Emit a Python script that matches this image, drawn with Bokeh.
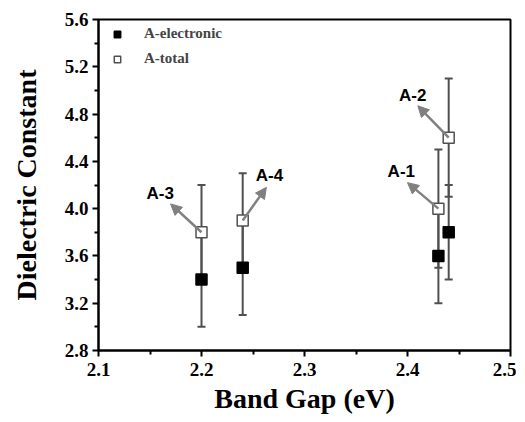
from bokeh.plotting import figure
from bokeh.models import (ColumnDataSource, Whisker, TeeHead, Arrow, NormalHead,
                          FixedTicker, Legend, LegendItem, LabelSet, Range1d,
                          PrintfTickFormatter)
from bokeh.core.properties import value
from bokeh.embed import file_html
from bokeh.resources import INLINE

# ---- data ----
band_gap = [2.43, 2.44, 2.20, 2.24]
labels = ["A-1", "A-2", "A-3", "A-4"]
elec = [3.6, 3.8, 3.4, 3.5]
elec_err = [0.4, 0.4, 0.4, 0.4]
total = [4.0, 4.6, 3.8, 3.9]
total_err = [0.5, 0.5, 0.4, 0.4]
# label positions (data coords) and arrow tips
label_x = [2.394, 2.405, 2.160, 2.266]
label_y = [4.31, 4.96, 4.13, 4.28]
tip_x = [2.400, 2.410, 2.170, 2.263]
tip_y = [4.22, 4.87, 4.04, 4.18]
x_ticks = [2.1, 2.2, 2.3, 2.4, 2.5]
x_minor = [2.15, 2.25, 2.35, 2.45]
y_ticks = [2.8, 3.2, 3.6, 4.0, 4.4, 4.8, 5.2, 5.6]
y_minor = [3.0, 3.4, 3.8, 4.2, 4.6, 5.0, 5.4]

src = ColumnDataSource(dict(
    x=band_gap, e=elec, t=total,
    e_lo=[a - b for a, b in zip(elec, elec_err)],
    e_hi=[a + b for a, b in zip(elec, elec_err)],
    t_lo=[a - b for a, b in zip(total, total_err)],
    t_hi=[a + b for a, b in zip(total, total_err)],
))
lab_src = ColumnDataSource(dict(x=label_x, y=label_y, text=labels))
arr_src = ColumnDataSource(dict(x0=band_gap, y0=total, x1=tip_x, y1=tip_y))

p = figure(width=516, height=420, output_backend="svg", toolbar_location=None,
           x_range=Range1d(2.1, 2.5), y_range=Range1d(2.8, 5.6),
           min_border_left=98, min_border_right=6, min_border_top=19, min_border_bottom=70)
p.xgrid.visible = False
p.ygrid.visible = False
p.outline_line_color = "black"
p.outline_line_width = 2

ERR = "#505050"
for lo, hi in (("t_lo", "t_hi"), ("e_lo", "e_hi")):
    w = Whisker(base="x", lower=lo, upper=hi, source=src, dimension="height",
                line_color=ERR, line_width=2,
                upper_head=TeeHead(size=8, line_color=ERR, line_width=2),
                lower_head=TeeHead(size=8, line_color=ERR, line_width=2))
    p.add_layout(w)

arrows = Arrow(x_start="x0", y_start="y0", x_end="x1", y_end="y1", source=arr_src,
               line_color="#808080", line_width=2.5,
               end=NormalHead(size=11, fill_color="#808080", line_color="#808080"))
p.add_layout(arrows)

r_e = p.scatter("x", "e", source=src, marker="square", size=11,
                fill_color="black", line_color="black", line_width=1.5)
r_t = p.scatter("x", "t", source=src, marker="square", size=11,
                fill_color="white", line_color="#505050", line_width=1.5)

ls = LabelSet(x="x", y="y", text="text", source=lab_src, text_align="center",
              text_baseline="middle", text_font=value("Liberation Sans"),
              text_font_style="bold", text_font_size="17px", text_color="black")
p.add_layout(ls)

legend = Legend(items=[LegendItem(label="A-electronic", renderers=[r_e]),
                       LegendItem(label="A-total", renderers=[r_t])],
                location=(10, 283), border_line_color=None, background_fill_alpha=0,
                margin=0, padding=0, glyph_width=18, glyph_height=16, spacing=8,
                label_standoff=18, label_height=16,
                label_text_font="Liberation Serif", label_text_font_style="bold",
                label_text_font_size="15px")
p.add_layout(legend)

for axl in (p.xaxis, p.yaxis):
    axl.axis_line_width = 2
    axl.major_tick_line_width = 2
    axl.minor_tick_line_width = 2
    axl.major_tick_out = 6
    axl.major_tick_in = 0
    axl.minor_tick_out = 4
    axl.minor_tick_in = 0
    axl.major_label_text_font = "Liberation Serif"
    axl.major_label_text_font_style = "bold"
    axl.major_label_text_font_size = "19px"
    axl.major_label_text_color = "black"
    axl.axis_label_text_font = "Liberation Serif"
    axl.axis_label_text_font_style = "bold"
    axl.axis_label_text_font_size = "28px"
    axl.axis_label_text_color = "black"
    axl.formatter = PrintfTickFormatter(format="%.1f")

p.xaxis.ticker = FixedTicker(ticks=x_ticks, minor_ticks=x_minor)
p.yaxis.ticker = FixedTicker(ticks=y_ticks, minor_ticks=y_minor)
p.xaxis.axis_label = "Band Gap (eV)"
p.yaxis.axis_label = "Dielectric Constant"
p.xaxis.major_label_standoff = 6
p.yaxis.major_label_standoff = 4
p.xaxis.axis_label_standoff = 4
p.yaxis.axis_label_standoff = 20

open("out.html", "w").write(file_html(p, INLINE))
